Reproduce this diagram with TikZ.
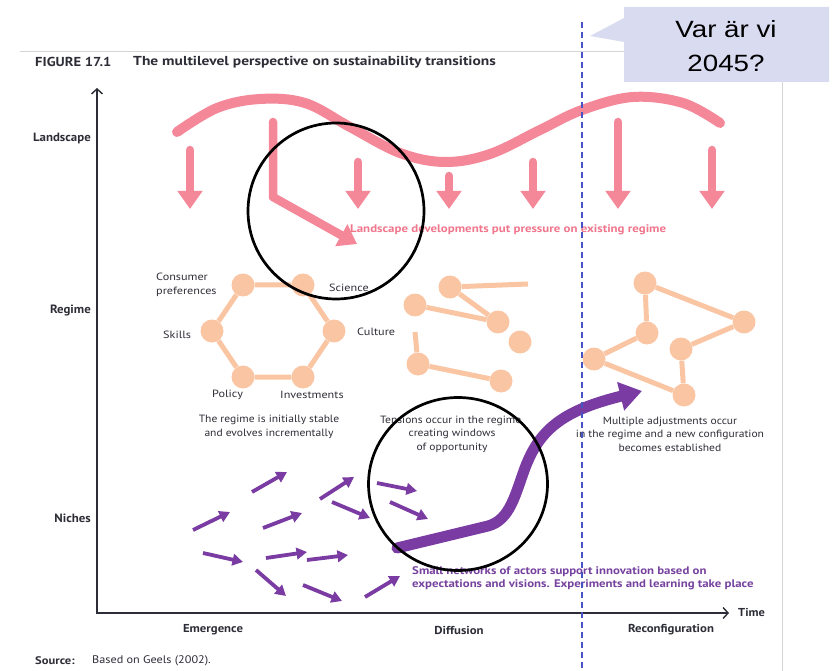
\documentclass[tikz,border=0pt]{standalone}
\usepackage{fontspec}
\setmainfont{PT Sans}
\newfontfamily\calloutfont{Liberation Sans}
\usetikzlibrary{arrows.meta}

\definecolor{landpink}{RGB}{244,136,153}
\definecolor{landtext}{RGB}{240,118,140}
\definecolor{regpeach}{RGB}{250,197,163}
\definecolor{nichepurple}{RGB}{122,60,162}
\definecolor{nichetext}{RGB}{118,66,158}
\definecolor{inktext}{RGB}{45,45,55}
\definecolor{framegray}{RGB}{212,212,212}
\definecolor{dashblue}{RGB}{72,84,196}
\definecolor{calloutfill}{RGB}{217,220,241}

\begin{document}
\begin{tikzpicture}[x=1pt,y=-1pt,
  txt/.style={inner sep=0pt, text=inktext, font=\fontsize{10.5}{13}\selectfont},
  elemlbl/.style={txt, anchor=west, xscale=1.16},
  levellbl/.style={inner sep=0pt, text=inktext, anchor=east, xscale=1.07,
    font=\bfseries\fontsize{12}{14}\selectfont},
  phaselbl/.style={inner sep=0pt, text=inktext, xscale=1.11,
    font=\bfseries\fontsize{11.5}{14}\selectfont},
  caption/.style={inner sep=0pt, text=inktext, align=center, xscale=1.1,
    font=\fontsize{10.5}{13.5}\selectfont},
  regnode/.style={circle, fill=regpeach, minimum size=23pt, inner sep=0pt},
  reglink/.style={draw=regpeach, line width=5pt},
  pressure/.style={draw=landpink, line width=8.5pt, line cap=round, line join=round,
    -{Triangle[width=24pt,length=18pt]}},
  nichearrow/.style={draw=nichepurple, line width=3.8pt, -{Triangle[width=11.5pt,length=10.5pt]}},
  lens/.style={draw=black, line width=2.7pt},
  axis/.style={draw=inktext, line width=1.4pt}
]
\useasboundingbox (0,0) rectangle (833,671);

% page frame
\draw[framegray, line width=0.8pt] (20,51.5) -- (782,51.5) -- (782,671);

% heading and source line
\node[inner sep=0pt, anchor=west, text=inktext, xscale=1.12, font=\bfseries\fontsize{13}{15}\selectfont] (fig) at (35,62) {FIGURE 17.1};
\node[inner sep=0pt, anchor=west, text=inktext, xscale=1.19, font=\bfseries\fontsize{13}{15}\selectfont] (title) at (133,62) {The multilevel perspective on sustainability transitions};
\node[inner sep=0pt, anchor=west, text=inktext, xscale=1.14, font=\bfseries\fontsize{11}{13}\selectfont] (src) at (35,661) {Source:};
\node[txt, anchor=west, xscale=1.11, font=\fontsize{11}{13}\selectfont] (geels) at (92,661) {Based on Geels (2002).};

% axes
\coordinate (ytop) at (97,88);
\coordinate (origin) at (97,613);
\coordinate (xend) at (729,613);
\draw[axis, {Straight Barb[length=5pt,width=11pt]}-{Straight Barb[length=5pt,width=11pt]}] (ytop) -- (origin) -- (xend);
\node[inner sep=0pt, anchor=west, text=inktext, xscale=1.08, font=\bfseries\fontsize{11.5}{14}\selectfont] (time) at (738,612) {Time};

\node[levellbl] (landscape) at (91,139) {Landscape};
\node[levellbl] (regime) at (91,311) {Regime};
\node[levellbl] (niches) at (91,518) {Niches};

\node[phaselbl] (emergence) at (213,630) {Emergence};
\node[phaselbl] (diffusion) at (459,630) {Diffusion};
\node[phaselbl] (reconfig) at (671,630) {Reconfiguration};

% landscape wave
\draw[landpink, line width=10pt, line cap=round]
  plot[smooth, tension=0.6] coordinates {(177,132) (217,108) (260,99) (305,103) (350,127)
    (400,153) (445,162) (490,154) (540,130) (582,110) (633,97) (683,103) (720,123)};

% landscape pressure arrows
\foreach \i/\x/\top in {1/190/150, 2/358/162, 3/449/176, 4/533/162, 5/618/122, 6/712/150} {
  \coordinate (ps\i) at (\x,\top);
  \coordinate (pe\i) at (\x,209);
  \draw[pressure] (ps\i) -- (pe\i);
}
\coordinate (bendtop) at (273,122);
\coordinate (bend) at (273,197);
\coordinate (bendtip) at (357,244);
\draw[pressure] (bendtop) -- (bend) -- (bendtip);

\node[inner sep=0pt, anchor=west, text=landtext, xscale=1.17, font=\bfseries\fontsize{11}{13}\selectfont] (pressuretxt) at (350,230)
  {Landscape developments put pressure on existing regime};

% stable regime: hexagon of elements
\node[regnode] (cons) at (243,285) {};
\node[regnode] (sci) at (303,285) {};
\node[regnode] (cult) at (334,331) {};
\node[regnode] (inv) at (303,377) {};
\node[regnode] (pol) at (243,377) {};
\node[regnode] (skill) at (212,331) {};
\draw[reglink] (cons) -- (sci) -- (cult) -- (inv) -- (pol) -- (skill) -- (cons);

\node[elemlbl, align=left, font=\fontsize{10.5}{14}\selectfont] (conslbl) at (156,285) {Consumer\\preferences};
\node[elemlbl] (scilbl) at (329,288) {Science};
\node[elemlbl] (skilllbl) at (163,335) {Skills};
\node[elemlbl] (cultlbl) at (357,332) {Culture};
\node[elemlbl] (pollbl) at (212,395) {Policy};
\node[elemlbl] (invlbl) at (280,395) {Investments};

% regime under tension
\node[regnode] (ta) at (450,287) {};
\node[regnode] (tb) at (415,305) {};
\node[regnode] (tc) at (498,322) {};
\node[regnode] (td) at (520,342) {};
\node[regnode] (te) at (418,364) {};
\node[regnode] (tf) at (501,381) {};
\coordinate (tafree) at (528,284);
\coordinate (tefree) at (415,332);
\draw[reglink] (tafree) -- (ta) -- (tc) -- (tb);
\draw[reglink] (tefree) -- (te) -- (tf);

% reconfigured regime
\node[regnode] (ga) at (645,283) {};
\node[regnode] (gb) at (744,322) {};
\node[regnode] (gc) at (647,333) {};
\node[regnode] (gd) at (681,349) {};
\node[regnode] (ge) at (594,359) {};
\node[regnode] (gf) at (684,395) {};
\draw[reglink] (gb) -- (ga) -- (gc) -- (ge) -- (gf) -- (gd) -- (gb);

\node[caption] (cap1) at (269,427) {The regime is initially stable\\and evolves incrementally};
\node[caption] (cap2) at (452,434) {Tensions occur in the regime,\\creating windows\\of opportunity};
\node[caption] (cap3) at (670,434) {Multiple adjustments occur\\in the regime and a new configuration\\becomes established};

% niche experiments
\foreach \i/\sx/\sy/\ex/\ey in {
   1/252/492/287/472,  2/193/530/230/512,  3/263/528/302/513,
   4/320/499/354/477,  5/332/502/370/518,  6/377/483/417/491,
   7/390/502/428/519,  8/203/553/243/562,  9/266/558/307/552,
  10/307/560/348/555, 11/256/570/286/596, 12/303/585/342/601,
  13/365/597/400/576} {
  \coordinate (ns\i) at (\sx,\sy);
  \coordinate (ne\i) at (\ex,\ey);
  \draw[nichearrow] (ns\i) -- (ne\i);
}

% breakthrough trajectory
\coordinate (growstart) at (397,548);
\coordinate (growbend) at (488,526);
\coordinate (growrise) at (525,468);
\coordinate (growtip) at (642,391);
\draw[nichepurple, line width=11pt, line cap=round, line join=round, -{Triangle[width=28pt,length=22pt]}]
  (growstart) -- (growbend) .. controls (510,520) and (515,495) .. (growrise)
  .. controls (540,428) and (565,410) .. (growtip);

\node[inner sep=0pt, anchor=west, align=left, text=nichetext, xscale=1.165, font=\bfseries\fontsize{11}{13}\selectfont] (nichetxt) at (412,578)
  {Small networks of actors support innovation based on\\expectations and visions. Experiments and learning take place};

% highlight rings
\node[lens, circle, minimum size=176pt, inner sep=0pt] (ringA) at (336,211) {};
\draw[lens] (458,484) ellipse [x radius=89.5, y radius=86.5];

% present-day marker
\coordinate (nowtop) at (582,22);
\coordinate (nowbot) at (582,671);
\draw[dashblue, line width=1.2pt, dash pattern=on 6pt off 4pt] (nowtop) -- (nowbot);

% callout
\fill[calloutfill] (624,7) -- (829,7) -- (829,82) -- (624,82) -- (624,42) -- (590,36) -- (624,18) -- cycle;
\node[inner sep=0pt, align=center, xscale=1.18, font=\calloutfont\fontsize{23.5}{34}\selectfont] (question) at (726,46.5)
  {Var är vi\\2045?};
\end{tikzpicture}
\end{document}
